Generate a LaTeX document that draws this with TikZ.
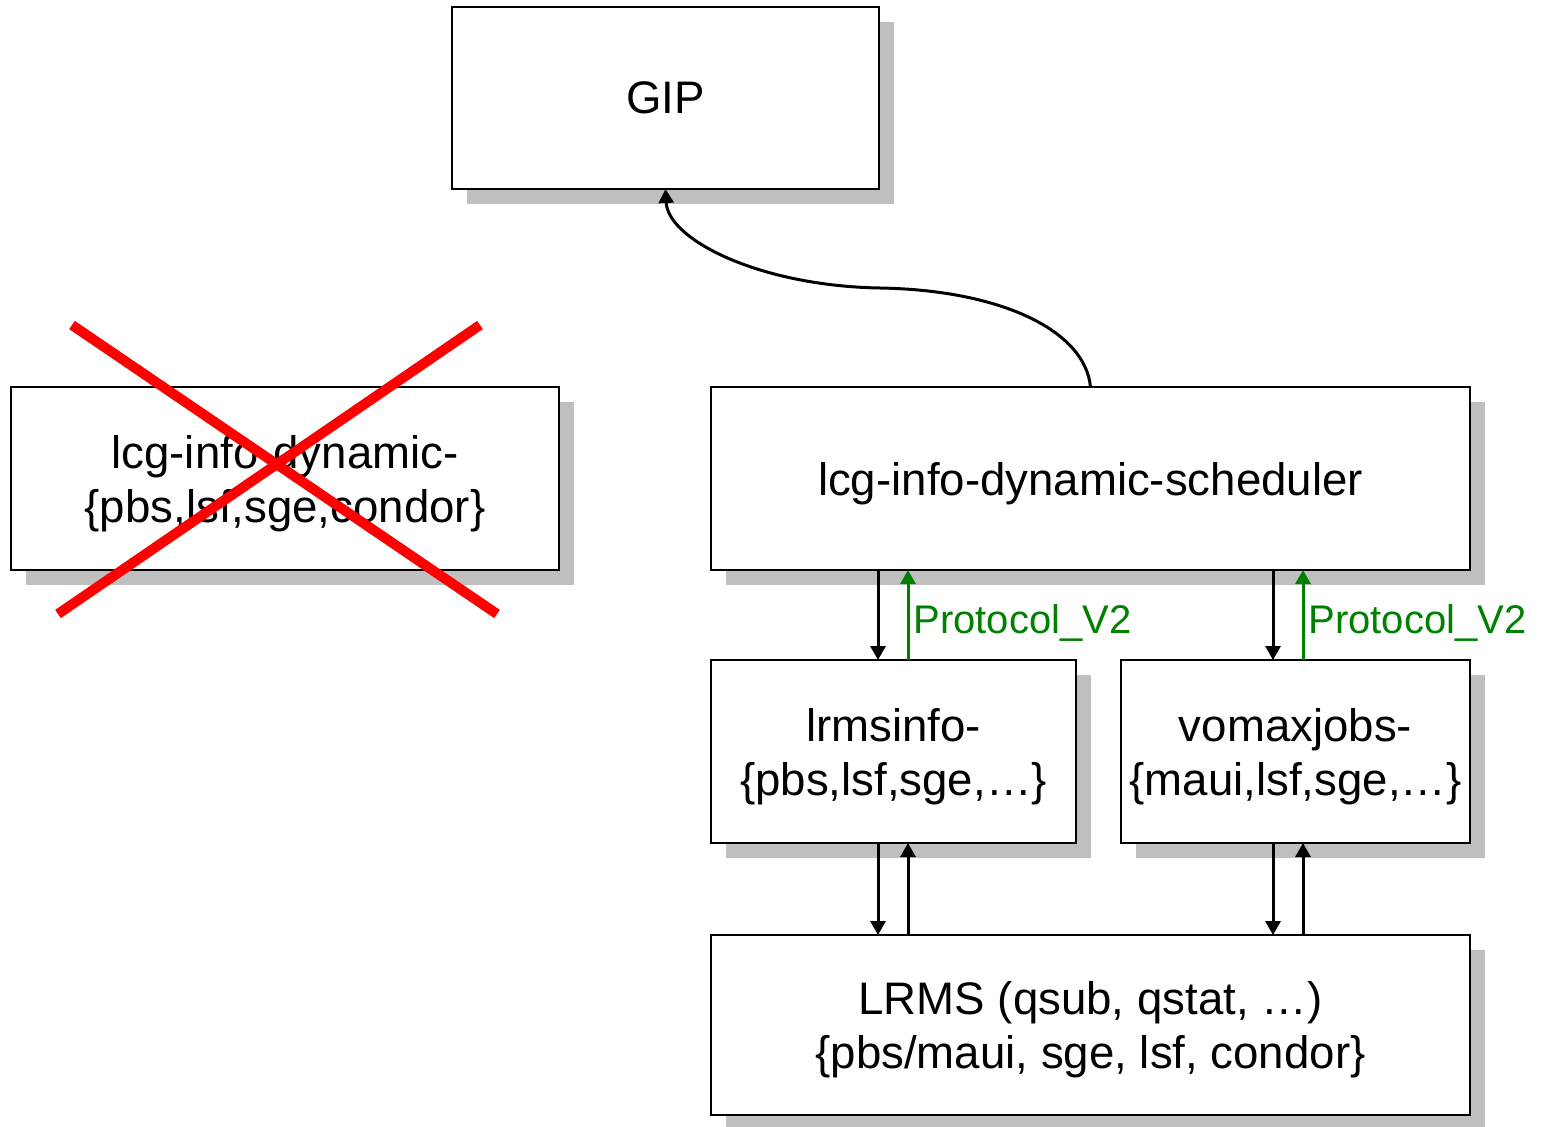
\documentclass[tikz,border=0pt]{standalone}
\usepackage{fontspec}
\setmainfont{Liberation Sans}
\usetikzlibrary{arrows.meta,shadows}
\definecolor{protgreen}{RGB}{0,128,0}
\newcommand\lowered[1]{\raisebox{-2.5pt}[\height][\depth]{#1}}
\begin{document}
\begin{tikzpicture}[x=0.5pt,y=-0.5pt,
    box/.style={draw,line width=1pt,fill=white,inner sep=0pt,outer sep=0pt,
      align=center,font=\fontsize{22.8}{27}\selectfont,
      drop shadow={shadow xshift=7.5pt,shadow yshift=-7.5pt,fill=black!25,opacity=1}},
    link/.style={line width=1.5pt,-{Triangle[width=7.5pt,length=7pt]}},
    proto/.style={link,protgreen},
    protolabel/.style={right,yshift=-4pt,inner sep=2pt,text=protgreen,font=\fontsize{20}{24}\selectfont}]
  \useasboundingbox (0,0) rectangle (1542,1126);
  \node[box,minimum width=213.5pt,minimum height=91pt] (gip) at (665.5,98) {GIP};
  \node[box,minimum width=274pt,minimum height=91.5pt] (old) at (285,478.5)
    {\lowered{lcg-info-dynamic-}\\\lowered{\{pbs,lsf,sge,condor\}}};
  \node[box,minimum width=379.5pt,minimum height=91.5pt] (sched) at (1090.5,478.5)
    {\lowered{lcg-info-dynamic-scheduler}};
  \node[box,minimum width=182.5pt,minimum height=91.5pt] (lrmsinfo) at (893.5,751.5)
    {\lowered{lrmsinfo-}\\\lowered{\{pbs,lsf,sge,\dots\}}};
  \node[box,minimum width=174.5pt,minimum height=91.5pt] (vomax) at (1295.5,751.5)
    {\lowered{vomaxjobs-}\\\lowered{\{maui,lsf,sge,\dots\}}};
  \node[box,minimum width=379.5pt,minimum height=90pt] (lrms) at (1090.5,1025)
    {\lowered{LRMS (qsub, qstat, \dots)}\\\lowered{\{pbs/maui, sge, lsf, condor\}}};
  % crossed out
  \draw[red,line width=5pt] (72,325) -- (497,614);
  \draw[red,line width=5pt] (480,325) -- (58,614);
  % scheduler to GIP
  \draw[link] (sched.north)
    .. controls (1085,330) and (1000,290) .. (880,288)
    .. controls (760,286) and (668,240) .. (gip.south);
  \coordinate (dl) at (878,0);
  \coordinate (ul) at (908,0);
  \coordinate (dr) at (1273,0);
  \coordinate (ur) at (1303,0);
  \draw[link] (dl |- sched.south) -- (dl |- lrmsinfo.north);
  \draw[proto] (ul |- lrmsinfo.north) -- node[protolabel] {Protocol\_V2} (ul |- sched.south);
  \draw[link] (dr |- sched.south) -- (dr |- vomax.north);
  \draw[proto] (ur |- vomax.north) -- node[protolabel] {Protocol\_V2} (ur |- sched.south);
  \draw[link] (dl |- lrmsinfo.south) -- (dl |- lrms.north);
  \draw[link] (ul |- lrms.north) -- (ul |- lrmsinfo.south);
  \draw[link] (dr |- vomax.south) -- (dr |- lrms.north);
  \draw[link] (ur |- lrms.north) -- (ur |- vomax.south);
\end{tikzpicture}
\end{document}
